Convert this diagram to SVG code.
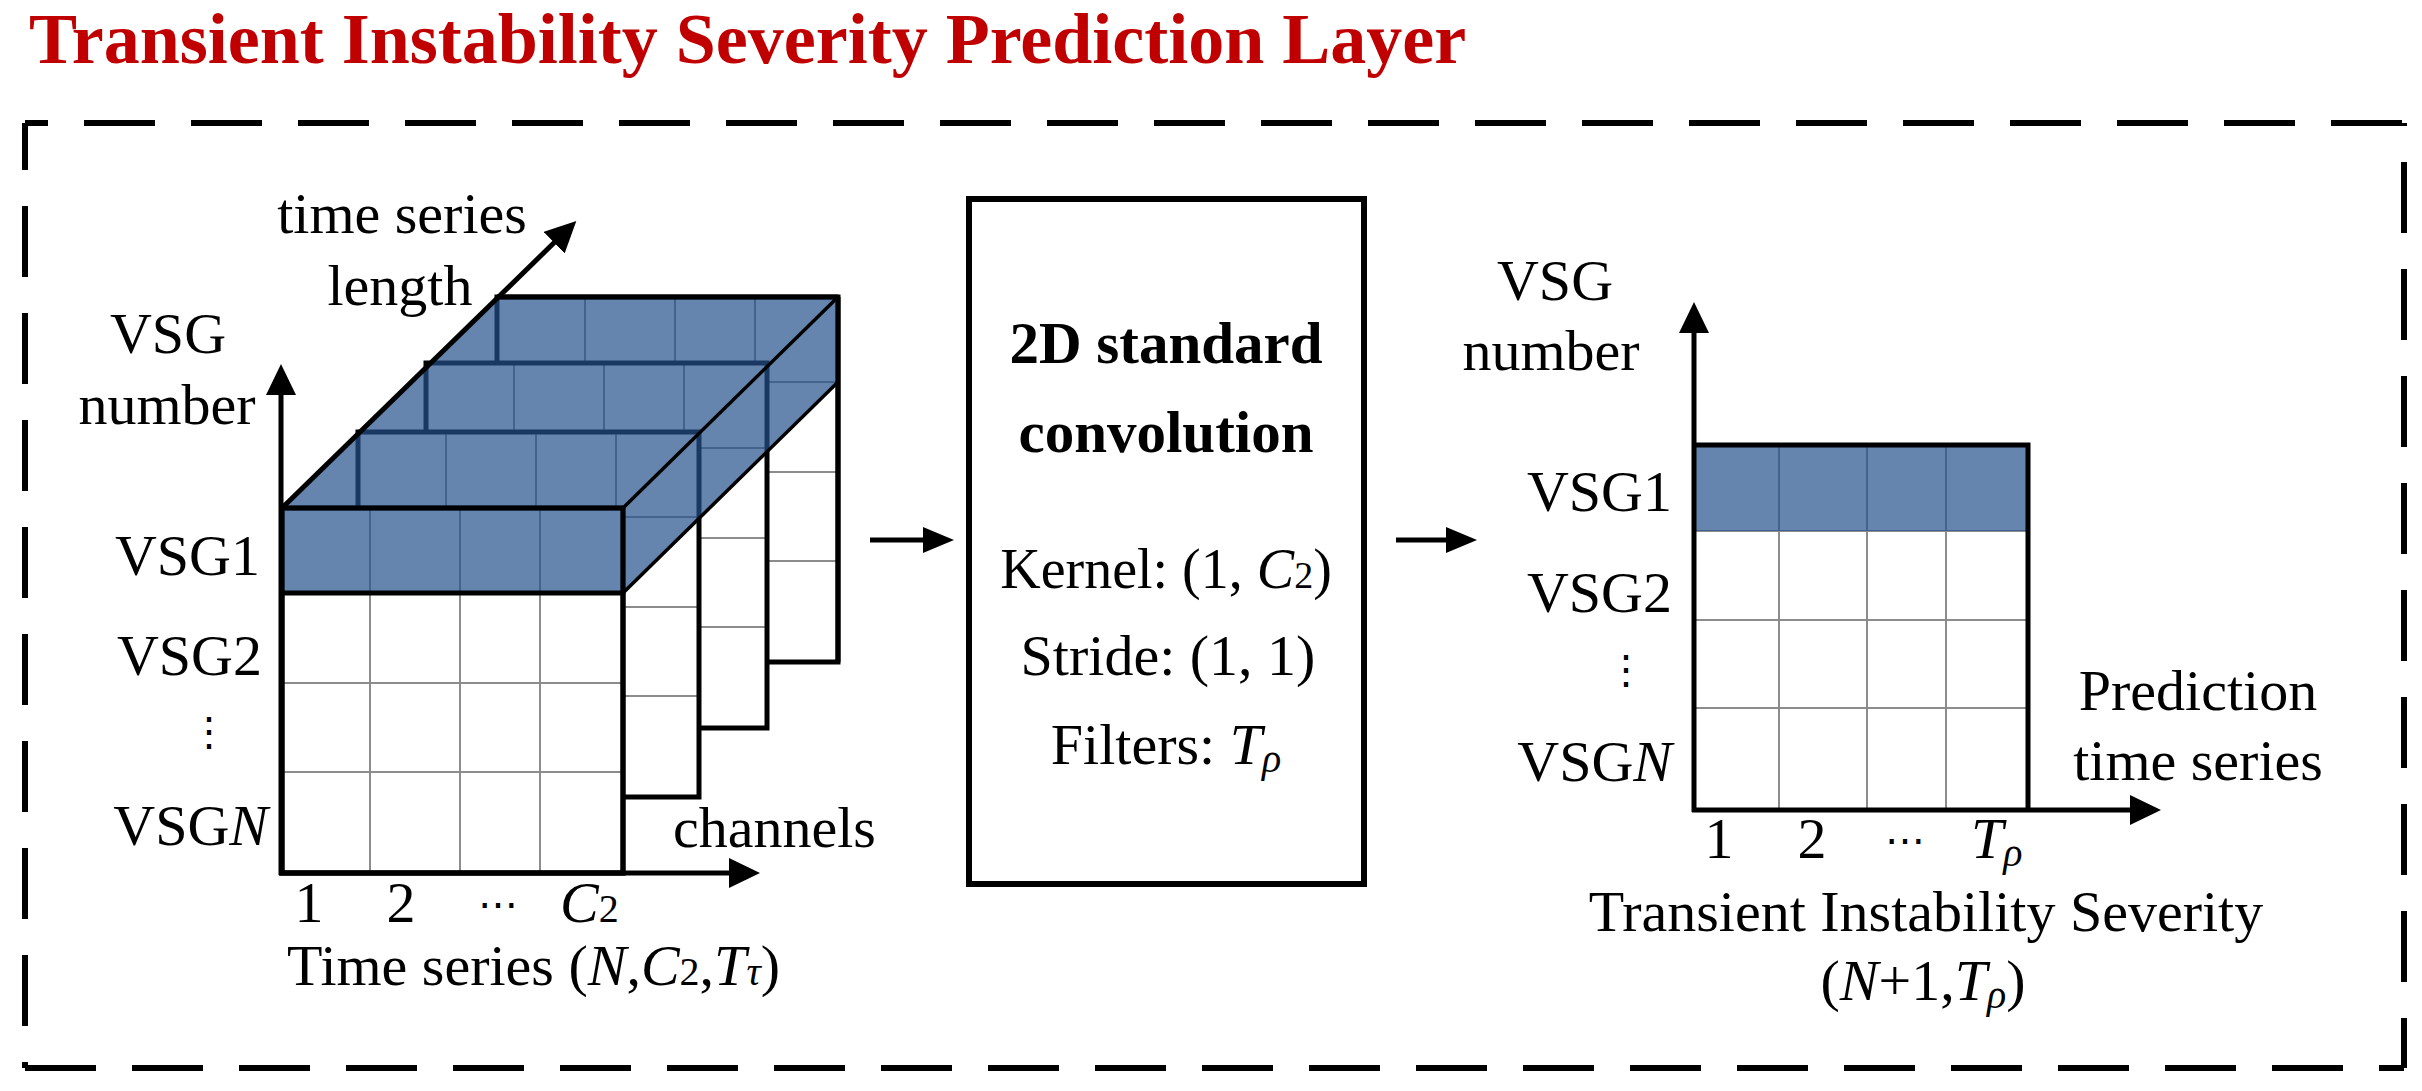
<svg xmlns="http://www.w3.org/2000/svg" xmlns:xlink="http://www.w3.org/1999/xlink" width="2422" height="1091" viewBox="0 0 2422 1091">
<style>
text{font-family:"Liberation Serif","DejaVu Serif",serif;font-size:58px;fill:#000}
.title{font-weight:bold;font-size:72px;fill:#C00000}
.b{font-weight:bold;font-size:59px}
.i{font-style:italic}
.dash{stroke:#000;stroke-width:6;fill:none;stroke-dasharray:71 36}
.ax{stroke:#000;stroke-width:5;fill:none}
.grid{stroke:#8c8c8c;stroke-width:2;fill:none}
.edge{stroke:#000;stroke-width:5;fill:none}
.thin{stroke:#000;stroke-width:3.5;fill:none}
.ov{fill:rgb(35,81,139);fill-opacity:0.7}
.dots{font-family:"DejaVu Serif",serif;font-size:40px}
</style>
<defs>
<marker id="ah" markerUnits="userSpaceOnUse" markerWidth="32" markerHeight="32" refX="11" refY="15" orient="auto">
<path d="M0,0 L31,15 L0,30 Z" fill="#000"/>
</marker>
<marker id="ah2" markerUnits="userSpaceOnUse" markerWidth="32" markerHeight="28" refX="11" refY="13" orient="auto">
<path d="M0,0 L31,13 L0,26 Z" fill="#000"/>
</marker>
<g id="slice">
<rect width="341" height="365" fill="#fff"/>
<path class="grid" d="M88,0V365M178,0V365M258,0V365M0,85H341M0,175H341M0,264H341"/>
<rect width="341" height="365" fill="none" stroke="#000" stroke-width="5"/>
</g>
</defs>
<rect width="2422" height="1091" fill="#fff"/>

<g id="title">
<text class="title" x="29" y="63">Transient Instability Severity Prediction Layer</text>
</g>

<g id="frame">
<line class="dash" x1="25" y1="123" x2="2404" y2="123" stroke-dashoffset="48"/>
<line class="dash" x1="25" y1="1068" x2="2404" y2="1068"/>
<line class="dash" x1="25" y1="123" x2="25" y2="1068" stroke-dashoffset="24"/>
<line class="dash" x1="2404" y1="123" x2="2404" y2="1068" stroke-dashoffset="68"/>
</g>

<g id="input-tensor">
<use xlink:href="#slice" x="497" y="297"/>
<use xlink:href="#slice" x="426" y="363"/>
<use xlink:href="#slice" x="358" y="432"/>
<use xlink:href="#slice" x="282" y="508"/>
<path class="ov" d="M282,508L497,297L838,297L623,508Z M282,508H623V593H282Z M623,508L838,297V382L623,593Z"/>
<rect x="282" y="508" width="341" height="365" class="edge"/>
<line x1="282" y1="593" x2="623" y2="593" class="edge"/>
<line x1="497" y1="297" x2="838" y2="297" class="edge"/>
<line x1="838" y1="297" x2="838" y2="662" class="edge"/>
<line x1="623" y1="508" x2="838" y2="297" class="thin"/>
<line x1="623" y1="593" x2="838" y2="382" class="thin"/>
<line x1="282" y1="508" x2="562" y2="235" class="ax" marker-end="url(#ah)"/>
<line x1="281" y1="875" x2="281" y2="384" class="ax" marker-end="url(#ah)"/>
<line x1="279" y1="873" x2="740" y2="873" class="ax" marker-end="url(#ah)"/>
<text x="402" y="233" text-anchor="middle">time series</text>
<text x="400" y="305" text-anchor="middle">length</text>
<text x="168" y="353" text-anchor="middle">VSG</text>
<text x="167" y="424" text-anchor="middle">number</text>
<text x="260" y="575" text-anchor="end">VSG1</text>
<text x="262" y="675" text-anchor="end">VSG2</text>
<text x="209" y="745" text-anchor="middle" class="dots">⋮</text>
<text x="268" y="845" text-anchor="end">VSG<tspan class="i">N</tspan></text>
<text x="309" y="922" text-anchor="middle">1</text>
<text x="401" y="922" text-anchor="middle">2</text>
<text x="498" y="918" text-anchor="middle" class="dots">⋯</text>
<text x="560" y="922"><tspan class="i">C</tspan><tspan style="font-size:40px">2</tspan></text>
<text x="673" y="847">channels</text>
<text x="287" y="985">Time series (<tspan class="i">N</tspan>,<tspan class="i">C</tspan><tspan style="font-size:40px">2</tspan>,<tspan class="i">T</tspan><tspan class="i" style="font-size:40px">τ</tspan>)</text>
</g>

<g id="conv-box">
<rect x="969" y="199" width="395" height="685" fill="#fff" stroke="#000" stroke-width="6"/>
<text class="b" x="1166" y="363" text-anchor="middle">2D standard</text>
<text class="b" x="1166" y="452" text-anchor="middle">convolution</text>
<text x="1166" y="588" text-anchor="middle" style="font-size:56px">Kernel: (1, <tspan class="i">C</tspan><tspan style="font-size:38px">2</tspan>)</text>
<text x="1168" y="675" text-anchor="middle">Stride: (1, 1)</text>
<text x="1166" y="764" text-anchor="middle">Filters: <tspan class="i">T</tspan><tspan class="i" style="font-size:40px" dy="8">ρ</tspan></text>
</g>

<g id="output-tensor">
<rect x="1694" y="445" width="334" height="365" fill="#fff"/>
<path class="grid" d="M1779,445V810M1867,445V810M1946,445V810M1694,531H2028M1694,620H2028M1694,708H2028"/>
<rect x="1694" y="445" width="334" height="86" class="ov"/>
<path class="edge" d="M1694,445H2028V810"/>
<line x1="1694" y1="812" x2="1694" y2="322" class="ax" marker-end="url(#ah)"/>
<line x1="1692" y1="810" x2="2141" y2="810" class="ax" marker-end="url(#ah)"/>
<text x="1555" y="300" text-anchor="middle">VSG</text>
<text x="1551" y="370" text-anchor="middle">number</text>
<text x="1672" y="511" text-anchor="end">VSG1</text>
<text x="1672" y="612" text-anchor="end">VSG2</text>
<text x="1626" y="683" text-anchor="middle" class="dots">⋮</text>
<text x="1672" y="781" text-anchor="end">VSG<tspan class="i">N</tspan></text>
<text x="2198" y="710" text-anchor="middle">Prediction</text>
<text x="2198" y="780" text-anchor="middle">time series</text>
<text x="1719" y="858" text-anchor="middle">1</text>
<text x="1812" y="858" text-anchor="middle">2</text>
<text x="1905" y="854" text-anchor="middle" class="dots">⋯</text>
<text x="1971" y="858"><tspan class="i">T</tspan><tspan class="i" style="font-size:40px" dy="8">ρ</tspan></text>
<text x="1926" y="931" text-anchor="middle">Transient Instability Severity</text>
<text x="1923" y="1000" text-anchor="middle">(<tspan class="i">N</tspan>+1,<tspan class="i">T</tspan><tspan class="i" style="font-size:40px" dy="8">ρ</tspan><tspan dy="-8">)</tspan></text>
</g>

<g id="connectors">
<line x1="870" y1="540" x2="934" y2="540" class="ax" stroke-width="4.5" marker-end="url(#ah2)"/>
<line x1="1396" y1="540" x2="1457" y2="540" class="ax" stroke-width="4.5" marker-end="url(#ah2)"/>
</g>
</svg>
